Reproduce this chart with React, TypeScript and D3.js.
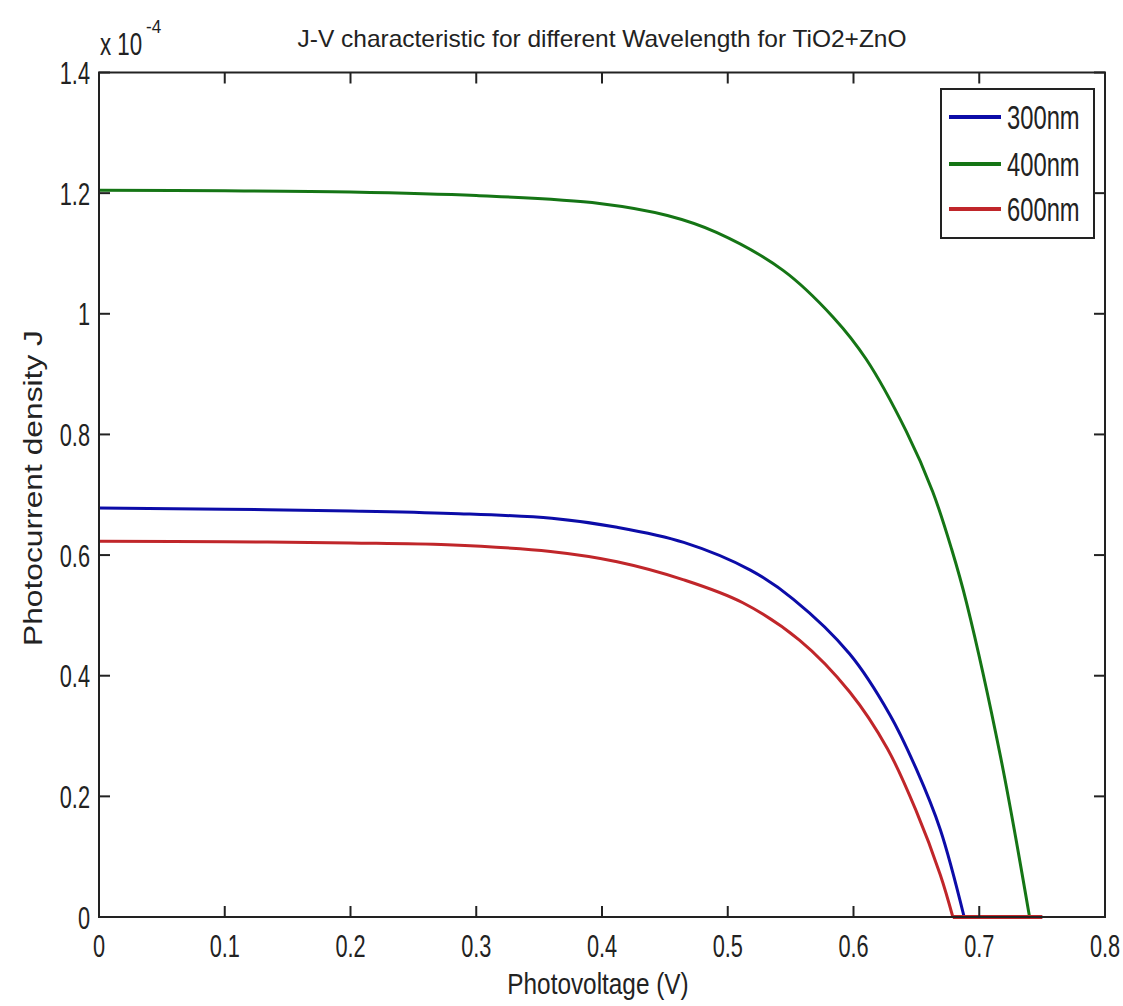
import React from "react";
import * as d3 from "d3";

const xTicks = [0, 0.1, 0.2, 0.3, 0.4, 0.5, 0.6, 0.7, 0.8];
const yTicks = [0, 0.2, 0.4, 0.6, 0.8, 1, 1.2, 1.4];
const xTickLabels = ["0", "0.1", "0.2", "0.3", "0.4", "0.5", "0.6", "0.7", "0.8"];
const yTickLabels = ["0", "0.2", "0.4", "0.6", "0.8", "1", "1.2", "1.4"];

// Photovoltage (V) and photocurrent density (x 1e-4)
const v300 = [0, 0.1, 0.2, 0.28, 0.36, 0.412, 0.465, 0.518, 0.552, 0.597, 0.629, 0.65, 0.669, 0.688];
const j300 = [0.678, 0.676, 0.673, 0.669, 0.661, 0.646, 0.621, 0.575, 0.527, 0.436, 0.335, 0.245, 0.145, 0];

const v400 = [0, 0.1, 0.2, 0.3, 0.398, 0.452, 0.491, 0.544, 0.584, 0.61, 0.642, 0.663, 0.678, 0.69, 0.717, 0.74];
const j400 = [1.205, 1.204, 1.202, 1.196, 1.183, 1.163, 1.135, 1.072, 0.994, 0.925, 0.805, 0.705, 0.61, 0.52, 0.265, 0];

const v600 = [0, 0.1, 0.2, 0.277, 0.359, 0.412, 0.465, 0.512, 0.557, 0.597, 0.627, 0.65, 0.669, 0.679];
const j600 = [0.623, 0.622, 0.62, 0.617, 0.606, 0.589, 0.559, 0.521, 0.459, 0.373, 0.279, 0.175, 0.07, 0];

const vEnd = 0.75; // all curves continue flat at J=0 up to this voltage

const seriesNames = ["300nm", "400nm", "600nm"];
const seriesColors = ["#0c0ca8", "#157515", "#c0262a"];

const W = 1123;
const H = 1006;
const M = { left: 99, right: 1105, top: 72.5, bottom: 917 };

const font = "'Liberation Sans', Arial, sans-serif";

function NText(props: {
  x: number;
  y: number;
  size: number;
  sx: number;
  anchor?: "start" | "middle" | "end";
  children: React.ReactNode;
}) {
  return (
    <text
      transform={`translate(${props.x},${props.y}) scale(${props.sx},1)`}
      textAnchor={props.anchor || "start"}
      fontFamily={font}
      fontSize={props.size}
      fill="#222"
    >
      {props.children}
    </text>
  );
}

export default function App() {
  const x = d3.scaleLinear().domain([0, 0.8]).range([M.left, M.right]);
  const y = d3.scaleLinear().domain([0, 1.4]).range([M.bottom, M.top]);

  const curve = d3
    .line<[number, number]>()
    .x((d) => x(d[0]))
    .y((d) => y(d[1]))
    .curve(d3.curveCatmullRom.alpha(0.5));
  const straight = d3
    .line<[number, number]>()
    .x((d) => x(d[0]))
    .y((d) => y(d[1]));

  const series = [
    { v: v300, j: j300 },
    { v: v400, j: j400 },
    { v: v600, j: j600 },
  ];

  const tickLen = 11;
  const axisColor = "#222";

  return (
    <svg width={W} height={H} viewBox={`0 0 ${W} ${H}`} style={{ display: "block", background: "#fff", position: "absolute", left: 0, top: 0 }}>
      <rect x={0} y={0} width={W} height={H} fill="#fff" />
      {/* Title */}
      <text
        x={602}
        y={47}
        textAnchor="middle"
        fontFamily={font}
        fontSize={24}
        fill="#222"
        textLength={609}
        lengthAdjust="spacingAndGlyphs"
      >
        J-V characteristic for different Wavelength for TiO2+ZnO
      </text>

      {/* Series */}
      {series.map((s, i) => {
        const pts: [number, number][] = s.v.map((v, k) => [v, s.j[k]]);
        const last = s.v[s.v.length - 1];
        return (
          <g key={i}>
            <path d={curve(pts) || ""} fill="none" stroke={seriesColors[i]} strokeWidth={3} strokeLinejoin="round" />
            <path d={straight([[last, 0], [vEnd, 0]]) || ""} fill="none" stroke={seriesColors[i]} strokeWidth={4} />
          </g>
        );
      })}

      {/* Axes box */}
      <rect x={M.left} y={M.top} width={M.right - M.left} height={M.bottom - M.top} fill="none" stroke={axisColor} strokeWidth={2} />

      {/* X ticks */}
      {xTicks.map((t, i) => (
        <g key={"x" + i}>
          <line x1={x(t)} x2={x(t)} y1={M.bottom} y2={M.bottom - tickLen} stroke={axisColor} strokeWidth={2} />
          <line x1={x(t)} x2={x(t)} y1={M.top} y2={M.top + tickLen} stroke={axisColor} strokeWidth={2} />
          <NText x={x(t)} y={957} size={32} sx={0.68} anchor="middle">
            {xTickLabels[i]}
          </NText>
        </g>
      ))}

      {/* Y ticks */}
      {yTicks.map((t, i) => (
        <g key={"y" + i}>
          <line x1={M.left} x2={M.left + tickLen} y1={y(t)} y2={y(t)} stroke={axisColor} strokeWidth={2} />
          <line x1={M.right} x2={M.right - tickLen} y1={y(t)} y2={y(t)} stroke={axisColor} strokeWidth={2} />
          <NText x={90} y={y(t) + 11.5} size={32} sx={0.68} anchor="end">
            {yTickLabels[i]}
          </NText>
        </g>
      ))}

      {/* Exponent */}
      <NText x={100} y={55} size={31} sx={0.72}>
        x 10
      </NText>
      <NText x={146} y={33} size={19} sx={0.9}>
        -4
      </NText>

      {/* Axis labels */}
      <NText x={598} y={994} size={29} sx={0.84} anchor="middle">
        Photovoltage (V)
      </NText>
      <text
        transform={`translate(42, 488) rotate(-90)`}
        textAnchor="middle"
        fontFamily={font}
        fontSize={25}
        fill="#222"
        textLength={316}
        lengthAdjust="spacingAndGlyphs"
      >
        Photocurrent density J
      </text>

      {/* Legend */}
      <rect x={941} y={89} width={153} height={149} fill="#fff" stroke={axisColor} strokeWidth={2} />
      {seriesNames.map((n, i) => {
        const ly = [117, 164, 209][i];
        return (
          <g key={"l" + i}>
            <line x1={949} x2={1001} y1={ly} y2={ly} stroke={seriesColors[i]} strokeWidth={4} />
            <NText x={1007} y={ly + 12} size={33} sx={0.72}>
              {n}
            </NText>
          </g>
        );
      })}
    </svg>
  );
}
